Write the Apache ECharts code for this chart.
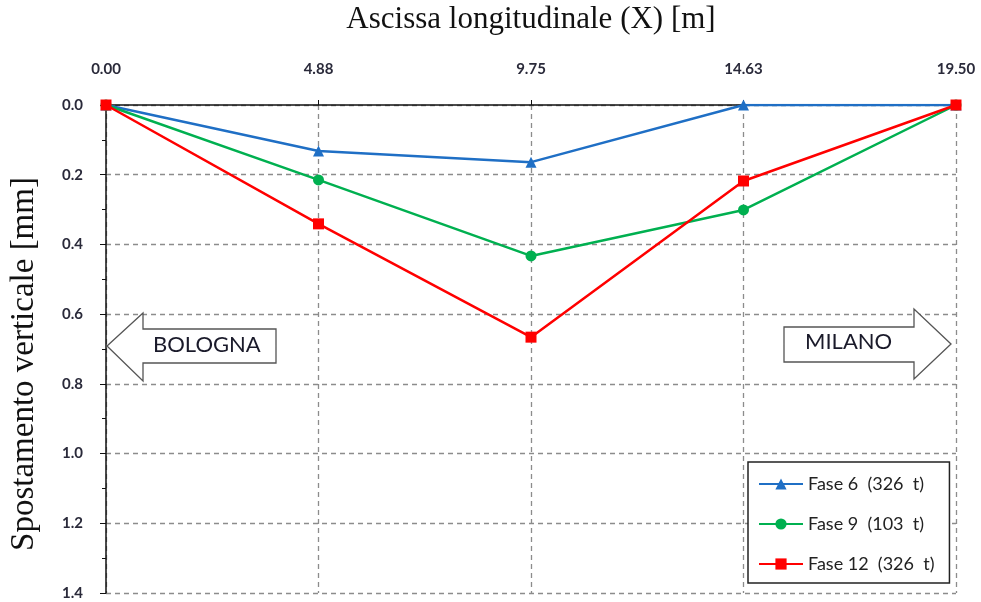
<!DOCTYPE html>
<html><head><meta charset="utf-8">
<script src="https://cdn.jsdelivr.net/npm/echarts@6/dist/echarts.min.js"></script>
<style>html,body{margin:0;padding:0;background:#fff}#c{width:981px;height:602px}</style>
</head><body><div id="c"></div>
<script>
const xPositions = [0, 4.875, 9.75, 14.625, 19.5];
const fase6 = [0, 0.132, 0.164, 0, 0];
const fase9 = [0, 0.215, 0.433, 0.301, 0];
const fase12 = [0, 0.341, 0.666, 0.218, 0];
const seriesNames = ['Fase 6  (326  t)', 'Fase 9  (103  t)', 'Fase 12  (326  t)'];
const xTitle = 'Ascissa longitudinale (X) [m]';
const yTitle = 'Spostamento verticale [mm]';

const chart = echarts.init(document.getElementById('c'), null, {renderer: 'canvas'});
const pair = arr => xPositions.map((x, i) => [x, arr[i]]);
const lblFont = {fontFamily: 'Lato, "Open Sans", sans-serif', fontWeight: 'bold', fontSize: 15, color: '#2a2a3a'};
const colors = ['#1F6FC5', '#00B050', '#FF0000'];
const symbols = ['triangle', 'circle', 'rect'];
const dataSets = [fase6, fase9, fase12];

chart.setOption({
  animation: false,
  grid: {left: 106, right: 25, top: 105, bottom: 9, containLabel: false, outerBoundsMode: 'none'},
  xAxis: {
    type: 'value', position: 'top', min: 0, max: 19.5, interval: 4.875,
    name: xTitle, nameLocation: 'middle', nameGap: 70,
    nameTextStyle: {fontFamily: '"Liberation Serif", serif', fontSize: 31, color: '#111'},
    axisLine: {show: true, lineStyle: {color: '#111', width: 1.5}},
    axisTick: {show: true, length: 5, lineStyle: {color: '#111'}},
    axisLabel: Object.assign({margin: 28, formatter: v => v.toFixed(2)}, lblFont),
    splitLine: {show: true, lineStyle: {type: [5, 4], color: '#8c8c8c', width: 1.3}}
  },
  yAxis: {
    type: 'value', inverse: true, min: 0, max: 1.4, interval: 0.2,
    name: yTitle, nameLocation: 'middle', nameGap: 65,
    nameTextStyle: {fontFamily: '"Liberation Serif", serif', fontSize: 33, color: '#111', padding: [0, 30, 0, 0]},
    axisLine: {show: true, lineStyle: {color: '#111', width: 1.5}},
    axisTick: {show: true, length: 6, lineStyle: {color: '#111'}},
    minorTick: {show: true, splitNumber: 2, length: 4, lineStyle: {color: '#111'}},
    axisLabel: Object.assign({margin: 23, formatter: v => v.toFixed(1)}, lblFont),
    splitLine: {show: true, lineStyle: {type: [5, 4], color: '#8c8c8c', width: 1.3}}
  },
  legend: {
    orient: 'vertical', left: 748, top: 462,
    padding: [13, 15, 10, 10], itemGap: 22, itemWidth: 44, itemHeight: 14,
    backgroundColor: '#fff', borderColor: '#222', borderWidth: 1.5,
    textStyle: {fontFamily: 'Lato, "Open Sans", sans-serif', fontSize: 18, color: '#222'},
    data: seriesNames
  },
  series: dataSets.map((d, i) => ({
    name: seriesNames[i], type: 'line', data: pair(d),
    symbol: symbols[i], symbolSize: 11,
    itemStyle: {color: colors[i]},
    lineStyle: {color: colors[i], width: 2.5},
    z: 3 + i
  })),
  graphic: [
    {type: 'polygon', z: 10, shape: {points: [[107,346],[143,313],[143,329],[276,329],[276,363],[143,363],[143,381]]},
     style: {fill: '#fff', stroke: '#555', lineWidth: 1.3}},
    {type: 'text', z: 11, left: 153, top: 334, style: {text: 'BOLOGNA', font: '22px Lato, "Open Sans", sans-serif', fill: '#1a1a2a'}},
    {type: 'polygon', z: 10, shape: {points: [[951,344],[914,309],[914,327],[784,327],[784,362],[914,362],[914,379]]},
     style: {fill: '#fff', stroke: '#555', lineWidth: 1.3}},
    {type: 'text', z: 11, left: 805, top: 331, style: {text: 'MILANO', font: '22px Lato, "Open Sans", sans-serif', fill: '#1a1a2a'}}
  ]
});
</script></body></html>
